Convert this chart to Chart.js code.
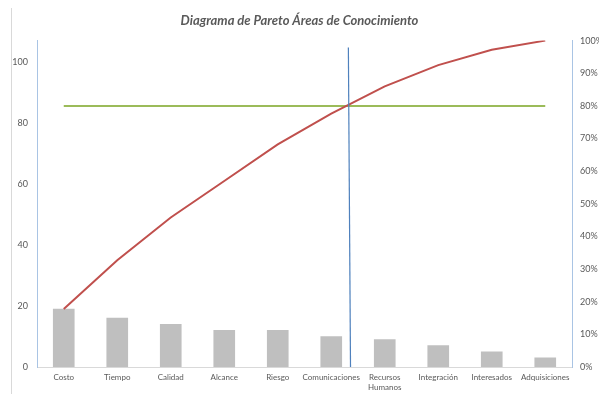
<!DOCTYPE html>
<html>
<head>
<meta charset="utf-8">
<script src="https://cdn.jsdelivr.net/npm/chart.js@4.4.1/dist/chart.umd.min.js"></script>
<style>
html,body{margin:0;padding:0;background:#fff;}
#wrap{position:relative;width:599px;height:394px;}
#edge{position:absolute;left:11px;top:8px;bottom:0;border-left:1px solid #d9d9d9;}
</style>
</head>
<body>
<div id="wrap">
<div id="edge"></div>
<canvas id="chart" width="599" height="394"></canvas>
</div>
<script>
// areas de conocimiento, ordenadas de mayor a menor
const areas = ["Costo","Tiempo","Calidad","Alcance","Riesgo","Comunicaciones",["Recursos","Humanos"],"Integración","Interesados","Adquisiciones"];
const frecuencia = [19,16,14,12,12,10,9,7,5,3];
const acumulado = [17.8,32.7,45.8,57.0,68.2,77.6,86.0,92.5,97.2,100];
const limite = [80,80,80,80,80,80,80,80,80,80];
// corte vertical donde el acumulado llega al 80%
const corte = [{x:5.32,y:97.9},{x:5.36,y:0}];
const ticksIzq = [0,20,40,60,80,100];
const totalIzq = 107;

const gris = "#595959";
const azulEje = "#a9c4e4";
const fuente = "Lato, 'Liberation Sans', sans-serif";

const chart = new Chart(document.getElementById("chart"),{
type:"bar",
data:{
labels:areas,
datasets:[
{type:"bar",data:frecuencia,backgroundColor:"#bfbfbf",borderWidth:0,
barThickness:21,grouped:false,yAxisID:"y",xAxisID:"x",order:3},
{type:"line",data:acumulado,borderColor:"#c0504d",borderWidth:2,pointRadius:0,
tension:0,yAxisID:"y2",xAxisID:"x",order:1},
{type:"line",data:limite,borderColor:"#9bbb59",borderWidth:2,pointRadius:0,
yAxisID:"y2",xAxisID:"x",order:2},
{type:"scatter",data:corte,showLine:true,borderColor:"#4f81bd",borderWidth:1.2,
pointRadius:0,yAxisID:"y2",xAxisID:"xl",order:0}
]
},
options:{
responsive:false,
animation:false,
layout:{padding:{left:0,right:0,top:0,bottom:0}},
plugins:{
legend:{display:false},
tooltip:{enabled:false},
title:{display:true,text:"Diagrama de Pareto Áreas de Conocimiento",color:gris,
font:{family:fuente,size:13,weight:"bold",style:"italic"},padding:{top:13,bottom:12}}
},
scales:{
x:{
type:"category",
offset:true,
grid:{display:false,drawTicks:false},
border:{color:"#d9d9d9"},
ticks:{color:gris,font:{family:fuente,size:8},maxRotation:0,autoSkip:false,padding:6},
afterFit(s){s.height=27;}
},
xl:{
type:"linear",display:false,offset:false,min:-0.5,max:9.5
},
y:{
position:"left",
min:0,max:totalIzq,
grid:{display:false,drawTicks:true,tickLength:3,color:azulEje},
border:{color:azulEje},
afterBuildTicks(s){s.ticks=ticksIzq.map(v=>({value:v}));},
ticks:{color:gris,font:{family:fuente,size:9},padding:6},
afterFit(s){s.width=37;}
},
y2:{
position:"right",
min:0,max:100,
grid:{display:false,drawTicks:true,tickLength:3,color:azulEje},
border:{color:azulEje},
ticks:{stepSize:10,color:gris,font:{family:fuente,size:9},padding:5,callback:v=>v+"%"},
afterFit(s){s.width=27;}
}
}
}
});
</script>
</body>
</html>
